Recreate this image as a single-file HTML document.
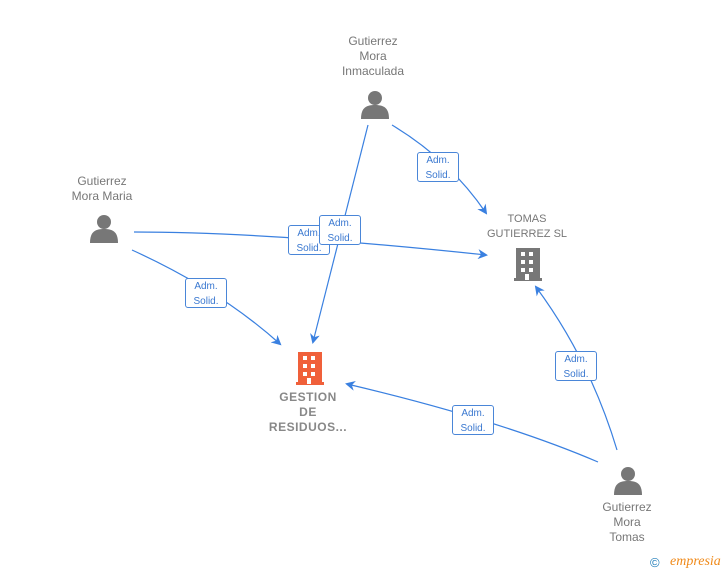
<!DOCTYPE html>
<html><head><style>
body{margin:0;background:#fff;width:728px;height:575px;overflow:hidden;font-family:"Liberation Sans",sans-serif}
.t{position:absolute;font-size:12px;color:#777;text-align:center;line-height:15px}
.b{font-weight:bold;color:#888;font-size:12px;letter-spacing:0.5px}
.l{position:absolute;width:42px;height:30px;border:1px solid #4a86d8;border-radius:3px;background:#fff;font-size:10px;color:#3a78d0;text-align:center;line-height:15px;box-sizing:border-box;padding-top:0px}
</style></head><body>
<svg width="728" height="575" style="position:absolute;left:0;top:0">
<defs><marker id="a" markerWidth="10" markerHeight="10" refX="8" refY="5" orient="auto" markerUnits="userSpaceOnUse"><path d="M0,0 L10,5 L0,10 L3,5z" fill="#3a80e0"/></marker>
<g id="p"><circle cx="14" cy="9" r="7" fill="#777"/><path d="M0,30 C0,18 6,16 14,16 C22,16 28,18 28,30z" fill="#777"/></g>
<g id="bd"><rect x="2" y="0" width="24" height="32"/><rect x="0" y="30" width="28" height="3"/></g>
</defs>
<g stroke="#3a80e0" stroke-width="1.2" fill="none">
<path d="M368,125 L313,342" marker-end="url(#a)"/>
<path d="M392,125 Q450,160 486,213" marker-end="url(#a)"/>
<path d="M134,232 Q270,232 486,255" marker-end="url(#a)"/>
<path d="M132,250 Q220,290 280,344" marker-end="url(#a)"/>
<path d="M617,450 Q590,360 536,287" marker-end="url(#a)"/>
<path d="M598,462 Q500,420 347,384" marker-end="url(#a)"/>
</g>
<use href="#p" x="361" y="89"/>
<use href="#p" x="90" y="213"/>
<use href="#p" x="614" y="465"/>
<g fill="#f0603a"><use href="#bd" x="296" y="352"/></g>
<g fill="#fff"><rect x="303" y="356" width="4" height="4"/><rect x="311" y="356" width="4" height="4"/><rect x="303" y="364" width="4" height="4"/><rect x="311" y="364" width="4" height="4"/><rect x="303" y="372" width="4" height="4"/><rect x="311" y="372" width="4" height="4"/><rect x="307" y="378" width="4" height="6"/></g>
<g fill="#777"><use href="#bd" x="514" y="248"/></g>
<g fill="#fff"><rect x="521" y="252" width="4" height="4"/><rect x="529" y="252" width="4" height="4"/><rect x="521" y="260" width="4" height="4"/><rect x="529" y="260" width="4" height="4"/><rect x="521" y="268" width="4" height="4"/><rect x="529" y="268" width="4" height="4"/><rect x="525" y="274" width="4" height="6"/></g>
</svg>
<div class="t" style="left:330px;top:34px;width:86px">Gutierrez<br>Mora<br>Inmaculada</div>
<div class="t" style="left:60px;top:174px;width:84px">Gutierrez<br>Mora Maria</div>
<div class="t" style="left:475px;top:212px;width:104px;font-size:11px">TOMAS<br>GUTIERREZ SL</div>
<div class="t b" style="left:258px;top:390px;width:100px">GESTION<br>DE<br>RESIDUOS...</div>
<div class="t" style="left:585px;top:500px;width:84px">Gutierrez<br>Mora<br>Tomas</div>
<div class="l" style="left:417px;top:152px">Adm.<br>Solid.</div>
<div class="l" style="left:288px;top:225px">Adm.<br>Solid.</div>
<div class="l" style="left:319px;top:215px">Adm.<br>Solid.</div>
<div class="l" style="left:185px;top:278px">Adm.<br>Solid.</div>
<div class="l" style="left:555px;top:351px">Adm.<br>Solid.</div>
<div class="l" style="left:452px;top:405px">Adm.<br>Solid.</div>
<div style="position:absolute;left:650px;top:555px;font-size:13px;color:#1a7ab8">©</div>
<div style="position:absolute;left:670px;top:554px;font-size:14px;color:#f08a1a;font-style:italic;font-family:'Liberation Serif',serif">empresia</div>
</body></html>
